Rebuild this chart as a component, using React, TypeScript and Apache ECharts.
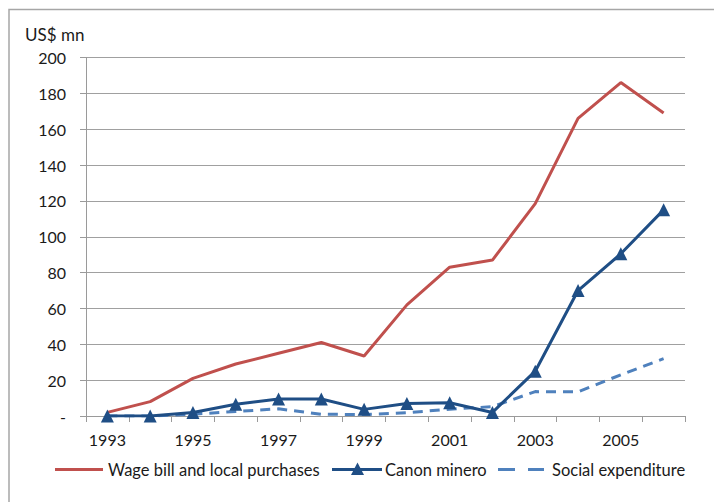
import React, { useEffect, useRef } from "react";
import * as echarts from "echarts";

const years = ["1993","1994","1995","1996","1997","1998","1999","2000","2001","2002","2003","2004","2005","2006"];
const wageBill = [2, 8, 21, 29, 35, 41, 33.5, 62, 83, 87, 118.5, 166, 186, 169];
const canonMinero = [0, 0, 2, 6.5, 9.5, 9.5, 3.7, 7, 7.4, 2, 25, 70, 90.5, 115];
const socialExp = [0, 0, 1, 2.5, 4, 1, 0.8, 1.8, 3.8, 5.2, 13.6, 13.5, 23, 32];
const seriesNames = ["Wage bill and local purchases", "Canon minero", "Social expenditure"];
const yTitle = "US$ mn";

export default function App() {
  const ref = useRef<HTMLDivElement>(null);
  useEffect(() => {
    document.body.style.margin = "0";
    const chart = echarts.init(ref.current!, null, { renderer: "svg" });
    const font = "Lato, 'Open Sans', sans-serif";
    const textColor = "#1a1a1a";
    const red = "#c0504d";
    const dark = "#1f4e85";
    const light = "#4f81bd";
    const ly = 469.5;
    chart.setOption({
      animation: false,
      backgroundColor: "#fff",
      textStyle: { fontFamily: font },
      grid: { left: 86, right: 29, top: 57.5, bottom: 86, containLabel: false },
      graphic: [
        {
          type: "rect",
          shape: { x: 9, y: 9.5, width: 740, height: 540 },
          style: { fill: "none", stroke: "#a6a6a6", lineWidth: 1.5 },
          silent: true,
        },
        {
          type: "text",
          left: 25,
          top: 26,
          style: { text: yTitle, fontSize: 17, fill: textColor, fontFamily: font },
        },
        // legend: wage bill
        { type: "line", shape: { x1: 55, y1: ly, x2: 103, y2: ly }, style: { stroke: red, lineWidth: 3 } },
        {
          type: "text", x: 108, y: ly,
          style: { text: seriesNames[0], fontSize: 16.5, fill: textColor, fontFamily: font, verticalAlign: "middle", align: "left" },
        },
        // legend: canon minero
        { type: "line", shape: { x1: 332, y1: ly, x2: 382, y2: ly }, style: { stroke: dark, lineWidth: 3 } },
        {
          type: "polygon",
          shape: { points: [[357.5, ly - 7], [364, ly + 5.5], [351, ly + 5.5]] },
          style: { fill: dark },
        },
        {
          type: "text", x: 385, y: ly,
          style: { text: seriesNames[1], fontSize: 16.5, fill: textColor, fontFamily: font, verticalAlign: "middle", align: "left" },
        },
        // legend: social expenditure
        { type: "line", shape: { x1: 498, y1: ly, x2: 515, y2: ly }, style: { stroke: light, lineWidth: 3 } },
        { type: "line", shape: { x1: 528, y1: ly, x2: 544, y2: ly }, style: { stroke: light, lineWidth: 3 } },
        {
          type: "text", x: 552, y: ly,
          style: { text: seriesNames[2], fontSize: 16.5, fill: textColor, fontFamily: font, verticalAlign: "middle", align: "left" },
        },
      ],
      xAxis: {
        type: "category",
        data: years,
        boundaryGap: true,
        axisLine: { show: true, lineStyle: { color: "#9a9a9a", width: 1 } },
        axisTick: { show: true, interval: 0, length: 6, lineStyle: { color: "#9a9a9a" } },
        axisLabel: { interval: 1, color: textColor, fontSize: 16, margin: 15, fontFamily: font },
        splitLine: { show: false },
      },
      yAxis: {
        type: "value",
        min: 0,
        max: 200,
        interval: 20,
        axisLine: { show: true, lineStyle: { color: "#9a9a9a", width: 1 } },
        axisTick: { show: true, length: 6, lineStyle: { color: "#9a9a9a" } },
        axisLabel: {
          color: textColor,
          fontSize: 16,
          margin: 20,
          fontFamily: font,
          formatter: (v: number) => (v === 0 ? "-" : String(v)),
        },
        splitLine: { show: true, lineStyle: { color: "#a0a0a0", width: 1.2 } },
      },
      series: [
        {
          name: seriesNames[0],
          type: "line",
          data: wageBill,
          symbol: "none",
          lineStyle: { color: red, width: 3 },
          itemStyle: { color: red },
          z: 3,
        },
        {
          name: seriesNames[1],
          type: "line",
          data: canonMinero,
          symbol: "triangle",
          symbolSize: 13,
          lineStyle: { color: dark, width: 3 },
          itemStyle: { color: dark },
          z: 4,
        },
        {
          name: seriesNames[2],
          type: "line",
          data: socialExp,
          symbol: "none",
          lineStyle: { color: light, width: 3, type: [10, 7] },
          itemStyle: { color: light },
          z: 2,
        },
      ],
    });
    return () => chart.dispose();
  }, []);
  return <div ref={ref} style={{ width: 714, height: 502 }} />;
}
